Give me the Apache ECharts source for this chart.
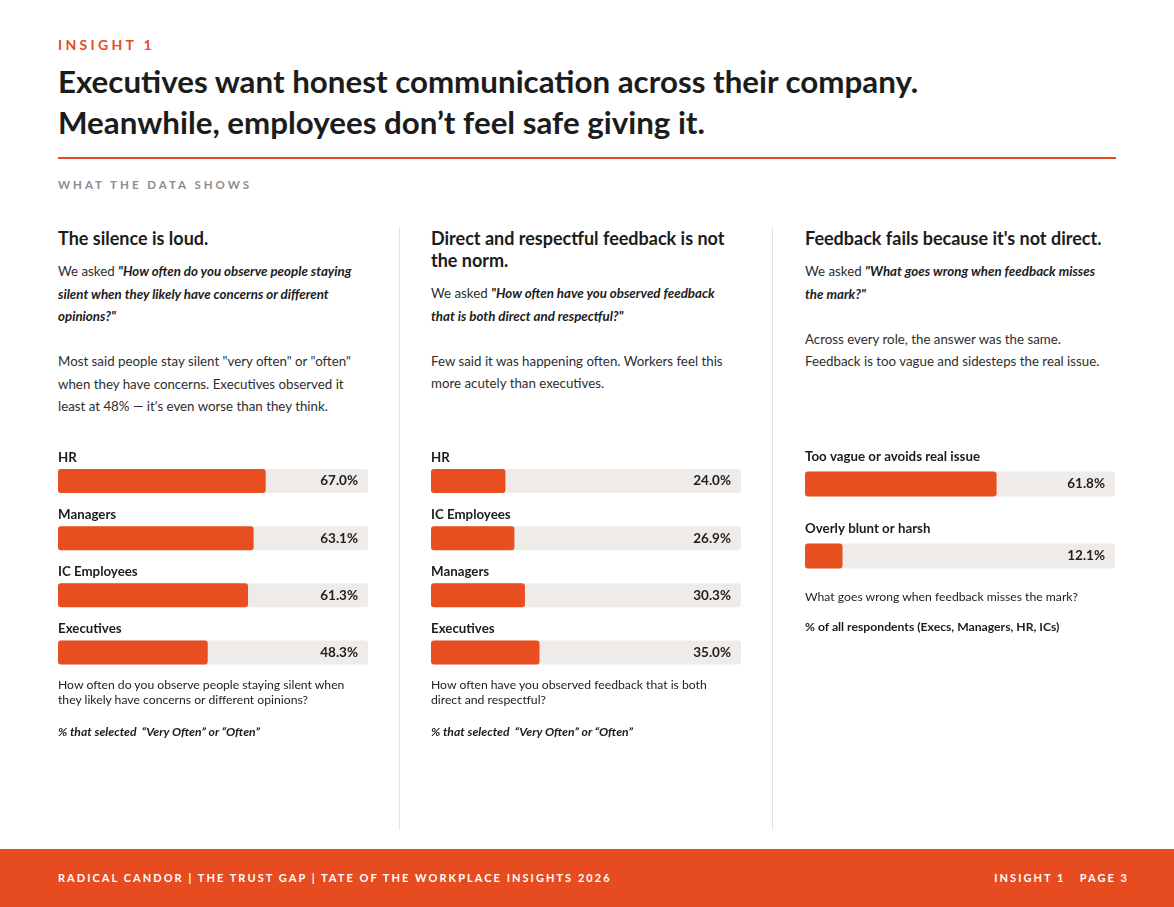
<!DOCTYPE html>
<html>
<head>
<meta charset="utf-8">
<script src="https://cdn.jsdelivr.net/npm/echarts@6/dist/echarts.min.js"></script>
<style>
  html, body { margin: 0; padding: 0; background: #fff; }
  body { width: 1174px; height: 907px; position: relative; overflow: hidden; font-family: Lato, "Open Sans", sans-serif; color: #222; }
  .abs { position: absolute; white-space: nowrap; }
  .kicker { left: 58px; top: 36px; font-size: 14px; line-height: 18px; font-weight: 700; letter-spacing: 3.3px; color: #e54b1e; }
  h1 { margin: 0; left: 58px; top: 61px; font-size: 31.3px; line-height: 41px; font-weight: 700; color: #1c1c1c; }
  .rule { left: 58px; top: 157px; width: 1058px; height: 2px; background: #e54b1e; }
  .section { left: 58px; top: 178px; font-size: 11.5px; line-height: 14px; font-weight: 700; letter-spacing: 3px; color: #8c8c8c; }
  .col { top: 227px; width: 310px; }
  .col h2 { margin: 0 0 11px 0; font-size: 18px; line-height: 22px; font-weight: 700; color: #1c1c1c; }
  .col p { margin: 0; font-size: 13.3px; line-height: 22.5px; color: #2e2e2e; }
  .col p b { font-style: italic; color: #1c1c1c; }
  .divider { top: 227px; width: 1px; height: 603px; background: #e2e2e2; }
  .cap { font-size: 12.2px; line-height: 15px; color: #222; }
  .note { font-size: 12.2px; line-height: 15px; font-weight: 700; color: #1c1c1c; }
  .footer { left: 0; top: 849px; width: 1174px; height: 58px; background: #e64c1f; }
  .foot { top: 871px; font-size: 11px; line-height: 14px; font-weight: 700; letter-spacing: 2.05px; color: #fff; }
  .chart { position: absolute; }
</style>
</head>
<body>

<div class="abs kicker">INSIGHT 1</div>
<h1 class="abs">Executives want honest communication across their company.<br>Meanwhile, employees don’t feel safe giving it.</h1>
<div class="abs rule"></div>
<div class="abs section">WHAT THE DATA SHOWS</div>

<div class="abs divider" style="left:399px"></div>
<div class="abs divider" style="left:772px"></div>

<div class="abs col" style="left:58px">
  <h2>The silence is loud.</h2>
  <p>We asked <b>"How often do you observe people staying<br>silent when they likely have concerns or different<br>opinions?"</b><br><br>Most said people stay silent "very often" or "often"<br>when they have concerns. Executives observed it<br>least at 48% — it's even worse than they think.</p>
</div>

<div class="abs col" style="left:431px">
  <h2>Direct and respectful feedback is not<br>the norm.</h2>
  <p>We asked <b>"How often have you observed feedback<br>that is both direct and respectful?"</b><br><br>Few said it was happening often. Workers feel this<br>more acutely than executives.</p>
</div>

<div class="abs col" style="left:805px">
  <h2>Feedback fails because it's not direct.</h2>
  <p>We asked <b>"What goes wrong when feedback misses<br>the mark?"</b><br><br>Across every role, the answer was the same.<br>Feedback is too vague and sidesteps the real issue.</p>
</div>

<div id="chartSilence" class="chart" style="left:58px;top:430px;width:310px;height:251px"></div>
<div id="chartDirect" class="chart" style="left:431px;top:430px;width:310px;height:251px"></div>
<div id="chartFail" class="chart" style="left:805px;top:428px;width:310px;height:164px"></div>

<div class="abs cap" style="left:58px;top:677px">How often do you observe people staying silent when<br>they likely have concerns or different opinions?</div>
<div class="abs note" style="left:58px;top:724px;font-style:italic">% that selected &nbsp;“Very Often” or “Often”</div>

<div class="abs cap" style="left:431px;top:677px">How often have you observed feedback that is both<br>direct and respectful?</div>
<div class="abs note" style="left:431px;top:724px;font-style:italic">% that selected &nbsp;“Very Often” or “Often”</div>

<div class="abs cap" style="left:805px;top:589px">What goes wrong when feedback misses the mark?</div>
<div class="abs note" style="left:805px;top:619px">% of all respondents (Execs, Managers, HR, ICs)</div>

<div class="abs footer"></div>
<div class="abs foot" style="left:58px">RADICAL CANDOR | THE TRUST GAP | TATE OF THE WORKPLACE INSIGHTS 2026</div>
<div class="abs foot" style="right:45px">INSIGHT 1 &nbsp; PAGE 3</div>

<script>
// chart data
var silenceRoles = ['HR', 'Managers', 'IC Employees', 'Executives'];
var silenceValues = [67.0, 63.1, 61.3, 48.3];

var directRoles = ['HR', 'IC Employees', 'Managers', 'Executives'];
var directValues = [24.0, 26.9, 30.3, 35.0];

var failReasons = ['Too vague or avoids real issue', 'Overly blunt or harsh'];
var failValues = [61.8, 12.1];

var ORANGE = '#e84e1f';
var TRACK = '#efebe8';

function drawBars(id, cats, vals, gridTop, barW, labelGap){
	var chart = echarts.init(document.getElementById(id));
	var full = cats.map(function(){ return 100; });
	chart.setOption({
		animation: false,
		grid: { left: 0, right: 0, top: gridTop, bottom: 0 },
		xAxis: { type: 'value', min: 0, max: 100, show: false },
		yAxis: { type: 'category', data: cats, inverse: true, show: false },
		series: [
			{
				// grey track, carries the value label
				type: 'bar', data: full, barWidth: barW, silent: true,
				itemStyle: { color: TRACK, borderRadius: 3 },
				label: {
					show: true, position: 'insideRight', distance: 10,
					fontFamily: 'Lato', fontWeight: 'bold', fontSize: 13.5, color: '#1e1e1e',
					formatter: function(p){ return vals[p.dataIndex].toFixed(1) + '%'; }
				}
			},
			{
				type: 'bar', data: vals, barWidth: barW, barGap: '-100%',
				itemStyle: { color: ORANGE, borderRadius: 3 },
				label: {
					show: true, position: [0, -labelGap], align: 'left', verticalAlign: 'bottom',
					fontFamily: 'Lato', fontWeight: 'bold', fontSize: 13.3, color: '#1c1c1c',
					formatter: '{b}'
				}
			}
		]
	});
	return chart;
}

drawBars('chartSilence', silenceRoles, silenceValues, 22.5, 24, 5);
drawBars('chartDirect', directRoles, directValues, 22.5, 24, 5);
drawBars('chartFail', failReasons, failValues, 20, 25, 8);
</script>
</body>
</html>
